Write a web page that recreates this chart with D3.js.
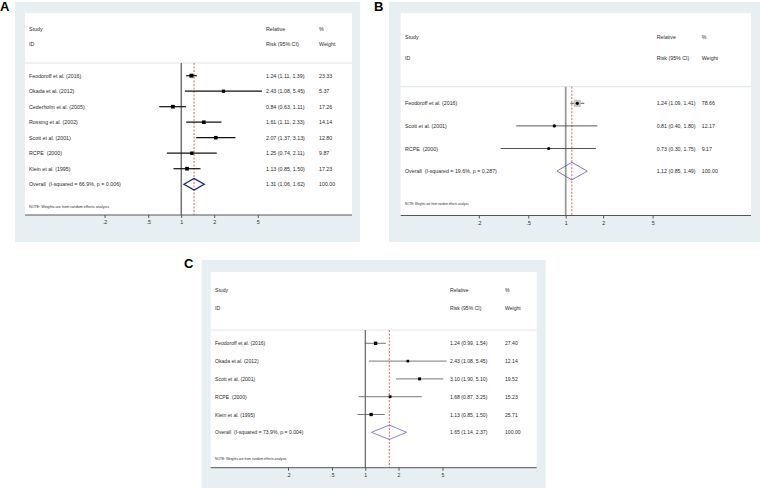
<!DOCTYPE html>
<html><head><meta charset="utf-8">
<script src="https://cdn.jsdelivr.net/npm/d3@7"></script>
<style>html,body{margin:0;padding:0;background:#fff}svg{display:block}</style>
</head><body>
<svg id="chart" width="760" height="493"></svg>
<script>
// ---------- data ----------
const tickValues = [0.2, 0.5, 1, 2, 5];
const tickLabels = [".2", ".5", "1", "2", "5"];
const headerLeft = ["Study", "ID"];
const headerMid = ["Relative", "Risk (95% CI)"];
const headerRight = ["%", "Weight"];
const noteText = "NOTE: Weights are from random effects analysis";

const studiesA = ["Feodoroff et al. (2016)", "Okada et al. (2012)", "Cederholm et al. (2005)", "Rossing et al. (2002)", "Scott et al. (2001)", "RCPE  (2000)", "Klein et al. (1995)"];
const rrA = [1.24, 2.43, 0.84, 1.61, 2.07, 1.25, 1.13];
const lowA = [1.11, 1.08, 0.63, 1.11, 1.37, 0.74, 0.85];
const highA = [1.39, 5.45, 1.11, 2.33, 3.13, 2.11, 1.50];
const weightA = [23.33, 5.37, 17.26, 14.14, 12.80, 9.87, 17.23];
const overallA = [1.31, 1.06, 1.62];
const overallLabelA = "Overall  (I-squared = 66.9%, p = 0.006)";

const studiesB = ["Feodoroff et al. (2016)", "Scott et al. (2001)", "RCPE  (2000)"];
const rrB = [1.24, 0.81, 0.73];
const lowB = [1.09, 0.40, 0.30];
const highB = [1.41, 1.80, 1.75];
const weightB = [78.66, 12.17, 9.17];
const overallB = [1.12, 0.85, 1.49];
const overallLabelB = "Overall  (I-squared = 19.6%, p = 0.287)";

const studiesC = ["Feodoroff et al. (2016)", "Okada et al. (2012)", "Scott et al. (2001)", "RCPE  (2000)", "Klein et al. (1995)"];
const rrC = [1.24, 2.43, 3.10, 1.68, 1.13];
const lowC = [0.99, 1.08, 1.90, 0.87, 0.85];
const highC = [1.54, 5.45, 5.10, 3.25, 1.50];
const weightC = [27.40, 12.14, 19.52, 15.23, 25.71];
const overallC = [1.65, 1.14, 2.37];
const overallLabelC = "Overall  (I-squared = 73.9%, p = 0.004)";

// ---------- drawing ----------
const svg = d3.select("#chart");
const f2 = d3.format(".2f");
const FONT = "'Liberation Sans', Arial, sans-serif";

function drawPanel(p) {
  const g = svg.append("g");
  // letter
  g.append("text").attr("x", p.letterX).attr("y", p.letterY).text(p.letter)
    .attr("font-family", FONT).attr("font-weight", "bold").attr("font-size", 13).attr("fill", "#000");
  // outer background
  g.append("rect").attr("x", p.outer[0]).attr("y", p.outer[1]).attr("width", p.outer[2]).attr("height", p.outer[3]).attr("fill", "#e8eff2");
  // inner white
  g.append("rect").attr("x", p.inner[0]).attr("y", p.inner[1]).attr("width", p.inner[2]).attr("height", p.axisY - p.inner[1]).attr("fill", "#fff");

  const x = d3.scaleLog().domain([0.2, 5]).range(p.xRange);
  const n = p.studies.length;
  const y = d3.scaleLinear().domain([0, 1]).range([p.row0, p.row0 + p.step]);

  const txt = (sel, fs) => sel.attr("font-family", FONT).attr("font-size", fs).attr("fill", "#2a2a2a")
      .attr("dominant-baseline", "central").style("white-space", "pre");

  // header
  headerLeft.forEach((t, i) => txt(g.append("text").attr("x", p.colLabel).attr("y", p.headY[i]).text(t), p.fs));
  headerMid.forEach((t, i) => txt(g.append("text").attr("x", p.colRR).attr("y", p.headY[i]).text(t), p.fs));
  headerRight.forEach((t, i) => txt(g.append("text").attr("x", p.colW).attr("y", p.headY[i]).text(t), p.fs));

  // separator
  g.append("line").attr("x1", p.inner[0]).attr("x2", p.inner[0] + p.inner[2]).attr("y1", p.sepY).attr("y2", p.sepY)
    .attr("stroke", "#dfe6ea").attr("stroke-width", 1);

  // null line
  g.append("line").attr("x1", x(1)).attr("x2", x(1)).attr("y1", p.sepY).attr("y2", p.axisY)
    .attr("stroke", p.nullColor).attr("stroke-width", p.nullWidth);
  // overall dashed line
  g.append("line").attr("x1", x(p.overall[0])).attr("x2", x(p.overall[0])).attr("y1", p.sepY).attr("y2", p.axisY)
    .attr("stroke", "#b84848").attr("stroke-width", 0.8).attr("stroke-dasharray", "2,1.5");

  // rows
  const idx = d3.range(n);
  idx.forEach(i => {
    const yy = y(i);
    txt(g.append("text").attr("x", p.colLabel).attr("y", yy).text(p.studies[i]), p.fs);
    txt(g.append("text").attr("x", p.colRR).attr("y", yy).text(`${f2(p.rr[i])} (${f2(p.low[i])}, ${f2(p.high[i])})`), p.fs);
    txt(g.append("text").attr("x", p.colW).attr("y", yy).text(f2(p.weight[i])), p.fs);
    g.append("line").attr("x1", x(p.low[i])).attr("x2", x(p.high[i])).attr("y1", yy).attr("y2", yy)
      .attr("stroke", p.ciColor).attr("stroke-width", p.ciWidth);
    if (p.marker === "box") {
      const s = p.boxBase + p.boxK * p.weight[i];
      g.append("rect").attr("x", x(p.rr[i]) - s / 2).attr("y", yy - s / 2).attr("width", s).attr("height", s).attr("fill", "#000");
    } else {
      const s = p.boxK * Math.sqrt(p.weight[i]);
      g.append("rect").attr("x", x(p.rr[i]) - s / 2).attr("y", yy - s / 2).attr("width", s).attr("height", s).attr("fill", "#c4c4c4");
      g.append("circle").attr("cx", x(p.rr[i])).attr("cy", yy).attr("r", 1.6).attr("fill", "#000");
    }
  });

  // overall
  const yo = y(n);
  txt(g.append("text").attr("x", p.colLabel).attr("y", yo).text(p.overallLabel), p.fs);
  txt(g.append("text").attr("x", p.colRR).attr("y", yo).text(`${f2(p.overall[0])} (${f2(p.overall[1])}, ${f2(p.overall[2])})`), p.fs);
  txt(g.append("text").attr("x", p.colW).attr("y", yo).text(f2(100)), p.fs);
  const dh = p.diamondH;
  const pts = [[x(p.overall[1]), yo], [x(p.overall[0]), yo - dh], [x(p.overall[2]), yo], [x(p.overall[0]), yo + dh]];
  g.append("polygon").attr("points", pts.map(d => d.join(",")).join(" "))
    .attr("fill", "none").attr("stroke", p.diamondColor).attr("stroke-width", p.diamondWidth);

  // note
  txt(g.append("text").attr("x", p.colLabel).attr("y", p.noteY).text(noteText), p.noteFs);

  // axis
  g.append("line").attr("x1", p.inner[0]).attr("x2", p.inner[0] + p.inner[2]).attr("y1", p.axisY).attr("y2", p.axisY)
    .attr("stroke", "#555").attr("stroke-width", 1);
  const ax = g.append("g").attr("transform", `translate(0,${p.axisY})`)
    .call(d3.axisBottom(x).tickValues(tickValues).tickFormat((d, i) => tickLabels[i]).tickSize(3).tickPadding(2.5));
  ax.select(".domain").remove();
  ax.selectAll("line").attr("stroke", "#555");
  ax.selectAll("text").attr("font-family", FONT).attr("font-size", p.fs).attr("fill", "#2a2a2a");
}

drawPanel({
  letter: "A", letterX: 0, letterY: 11,
  outer: [15, 2, 345, 240], inner: [25, 13, 327, 202], axisY: 215,
  xRange: [104.6, 257.8], sepY: 63, headY: [29, 44],
  colLabel: 29, colRR: 266, colW: 319, row0: 75.7, step: 15.5,
  fs: 5.3, noteFs: 3.7, noteY: 207,
  studies: studiesA, rr: rrA, low: lowA, high: highA, weight: weightA,
  overall: overallA, overallLabel: overallLabelA,
  nullColor: "#333", nullWidth: 1, ciColor: "#111", ciWidth: 1.2,
  marker: "box", boxBase: 3, boxK: 0.04,
  diamondH: 5.8, diamondColor: "#1c1c78", diamondWidth: 1.3
});

drawPanel({
  letter: "B", letterX: 374, letterY: 11,
  outer: [389, 2, 371, 240], inner: [400.7, 13, 350.3, 202.5], axisY: 215.5,
  xRange: [478.8, 652.6], sepY: 86.7, headY: [36.7, 58],
  colLabel: 405, colRR: 656.7, colW: 701.7, row0: 103.3, step: 22.6,
  fs: 5.3, noteFs: 2.95, noteY: 204,
  studies: studiesB, rr: rrB, low: lowB, high: highB, weight: weightB,
  overall: overallB, overallLabel: overallLabelB,
  nullColor: "#9a9a9a", nullWidth: 1.8, ciColor: "#444", ciWidth: 0.9,
  marker: "dot", boxK: 0.8,
  diamondH: 8.8, diamondColor: "#5a5aa0", diamondWidth: 0.8
});

drawPanel({
  letter: "C", letterX: 184, letterY: 268,
  outer: [201.7, 260, 344, 228], inner: [210.7, 272, 326, 195.7], axisY: 467.7,
  xRange: [288, 442.5], sepY: 330, headY: [290, 307.7],
  colLabel: 215, colRR: 450, colW: 505, row0: 343.3, step: 17.8,
  fs: 5.1, noteFs: 3.3, noteY: 459.3,
  studies: studiesC, rr: rrC, low: lowC, high: highC, weight: weightC,
  overall: overallC, overallLabel: overallLabelC,
  nullColor: "#444", nullWidth: 1, ciColor: "#555", ciWidth: 0.8,
  marker: "box", boxBase: 2, boxK: 0.05,
  diamondH: 7.2, diamondColor: "#7466a6", diamondWidth: 0.8
});
</script>
</body></html>
